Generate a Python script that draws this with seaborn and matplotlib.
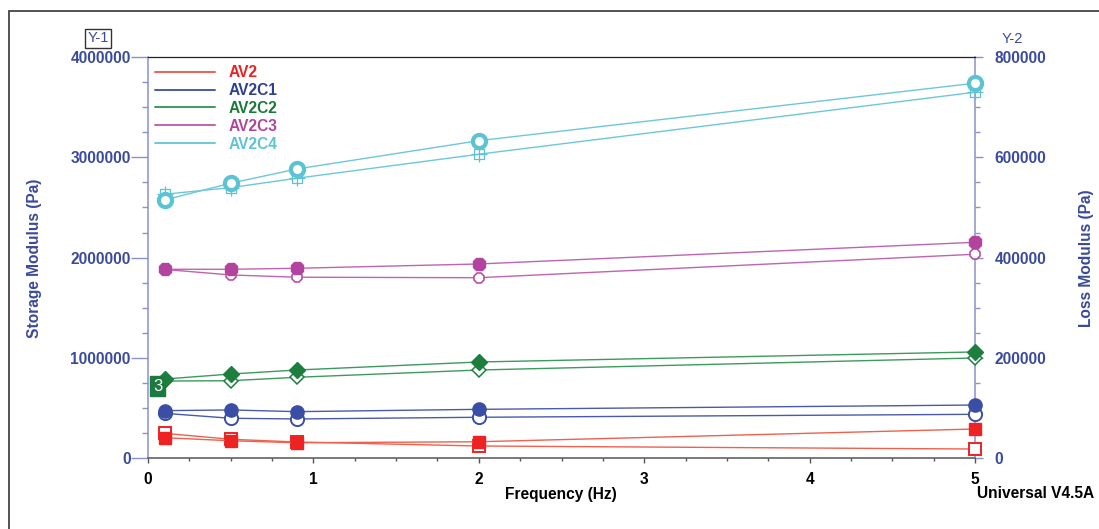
import numpy as np
import pandas as pd
import seaborn as sns
import matplotlib
matplotlib.use("Agg")
import matplotlib.pyplot as plt
from matplotlib.path import Path
from matplotlib.lines import Line2D
from matplotlib.patches import Rectangle
from matplotlib.ticker import AutoMinorLocator, MultipleLocator, FuncFormatter

# Frequency sweep points (Hz)
frequency = [0.1, 0.5, 0.9, 2.0, 5.0]

samples = ["AV2", "AV2C1", "AV2C2", "AV2C3", "AV2C4"]

# Storage modulus G' (Pa), left axis
storage_av2 = [205000, 175000, 155000, 165000, 292000]
storage_av2c1 = [475000, 482000, 465000, 488000, 531000]
storage_av2c2 = [790000, 840000, 880000, 960000, 1060000]
storage_av2c3 = [1884000, 1884000, 1894000, 1937000, 2153000]
storage_av2c4 = [2575000, 2742000, 2884000, 3166000, 3739000]

# Loss modulus G'' (Pa), right axis
loss_av2 = [49800, 37900, 32500, 24500, 18500]
loss_av2c1 = [89700, 79800, 78400, 81800, 87700]
loss_av2c2 = [154000, 154700, 161500, 176000, 200000]
loss_av2c3 = [376500, 365500, 361000, 360000, 406800]
loss_av2c4 = [526400, 539600, 558300, 606200, 729800]

storage = [storage_av2, storage_av2c1, storage_av2c2, storage_av2c3, storage_av2c4]
loss = [loss_av2, loss_av2c1, loss_av2c2, loss_av2c3, loss_av2c4]

line_colors = ["#f0604e", "#4a5aaa", "#3c9a5c", "#c063b0", "#6cc8d8"]
mark_colors = ["#ee2222", "#3a4ea6", "#1d7f3e", "#b2449f", "#5bc3d4"]
text_colors = ["#ee2020", "#2f3f96", "#1a7a38", "#b0469c", "#5cc4d6"]

axis_blue = "#3a4a9c"
spine_blue = "#8a92cc"

# square-with-cross marker for the AV2C4 loss curve
sq_cross = Path(
    [(-0.6, -0.6), (0.6, -0.6), (0.6, 0.6), (-0.6, 0.6), (-0.6, -0.6),
     (0, -1.0), (0, 1.0), (-1.0, 0), (1.0, 0)],
    [Path.MOVETO, Path.LINETO, Path.LINETO, Path.LINETO, Path.CLOSEPOLY,
     Path.MOVETO, Path.LINETO, Path.MOVETO, Path.LINETO])

filled_style = [
    dict(marker="s", markersize=8.5, markerfacecolor=mark_colors[0], markeredgecolor=mark_colors[0], markeredgewidth=1),
    dict(marker="o", markersize=9.5, markerfacecolor=mark_colors[1], markeredgecolor=mark_colors[1], markeredgewidth=1),
    dict(marker="D", markersize=8, markerfacecolor=mark_colors[2], markeredgecolor=mark_colors[2], markeredgewidth=1),
    dict(marker="8", markersize=9.5, markerfacecolor=mark_colors[3], markeredgecolor=mark_colors[3], markeredgewidth=1),
    dict(marker="o", markersize=9.5, markerfacecolor="white", markeredgecolor=mark_colors[4], markeredgewidth=3.0),
]
open_style = [
    dict(marker="s", markersize=8.5, markerfacecolor="white", markeredgecolor=mark_colors[0], markeredgewidth=1.4),
    dict(marker="o", markersize=9.5, markerfacecolor="white", markeredgecolor=mark_colors[1], markeredgewidth=1.4),
    dict(marker="D", markersize=7.5, markerfacecolor="white", markeredgecolor=mark_colors[2], markeredgewidth=1.1),
    dict(marker="8", markersize=8.5, markerfacecolor="white", markeredgecolor=mark_colors[3], markeredgewidth=1.1),
    dict(marker=sq_cross, markersize=11, markerfacecolor="none", markeredgecolor=mark_colors[4], markeredgewidth=0.9),
]

sns.set_style("white")
plt.rcParams["font.family"] = ["Liberation Sans", "DejaVu Sans"]
plt.rcParams["font.weight"] = "bold"

fig = plt.figure(figsize=(10.99, 5.29), dpi=100)
ax = fig.add_axes([148 / 1099, 1 - 458.3 / 529, (975 - 148) / 1099, (458.3 - 57) / 529])
ax2 = ax.twinx()
# filled (storage) markers sit above the open (loss) markers
ax.set_zorder(ax2.get_zorder() + 1)
ax.patch.set_visible(False)

for i, name in enumerate(samples):
    df_s = pd.DataFrame({"Frequency": frequency, "G": storage[i]})
    df_l = pd.DataFrame({"Frequency": frequency, "G": loss[i]})
    sns.lineplot(data=df_s, x="Frequency", y="G", ax=ax, color=line_colors[i], lw=1.0,
                 clip_on=False, zorder=3, legend=False, **filled_style[i])
    sns.lineplot(data=df_l, x="Frequency", y="G", ax=ax2, color=line_colors[i], lw=1.0,
                 clip_on=False, zorder=3, legend=False, **open_style[i])

ax.set_xlim(0, 5)
ax.set_ylim(0, 4000000)
ax2.set_ylim(0, 800000)

ax.xaxis.set_major_locator(MultipleLocator(1))
ax.xaxis.set_minor_locator(AutoMinorLocator(4))
ax.yaxis.set_major_locator(MultipleLocator(1000000))
ax.yaxis.set_minor_locator(AutoMinorLocator(4))
ax2.yaxis.set_major_locator(MultipleLocator(200000))
ax2.yaxis.set_minor_locator(AutoMinorLocator(4))
fmt = FuncFormatter(lambda v, p: f"{int(round(v))}")
ax.yaxis.set_major_formatter(fmt)
ax2.yaxis.set_major_formatter(fmt)

ax.tick_params(axis="y", which="major", direction="out", length=12, width=1, color=spine_blue,
               labelsize=11.2, labelcolor=axis_blue, pad=0.5, left=True)
ax.tick_params(axis="y", which="minor", direction="out", length=4.3, width=1, color=spine_blue, left=True)
ax.tick_params(axis="x", which="major", direction="out", length=3.6, width=1, color="#555555",
               labelsize=11.2, labelcolor="black", pad=6, bottom=True)
ax.tick_params(axis="x", which="minor", direction="out", length=2.2, width=1, color="#555555", bottom=True)
ax2.tick_params(axis="y", which="major", direction="out", length=5.8, width=1, color=spine_blue,
                labelsize=11.2, labelcolor=axis_blue, pad=8.5, right=True)
ax2.tick_params(axis="y", which="minor", direction="out", length=3.6, width=1, color=spine_blue, right=True)

for a in (ax, ax2):
    for lab in a.get_xticklabels() + a.get_yticklabels():
        lab.set_fontweight("bold")

ax.spines["left"].set_color(spine_blue)
ax.spines["right"].set_visible(False)
ax.spines["bottom"].set_color("#555555")
ax.spines["top"].set_color("#222222")
ax.spines["top"].set_linewidth(0.9)
ax2.spines["right"].set_color(spine_blue)
for s in ("left", "top", "bottom"):
    ax2.spines[s].set_visible(False)
ax.spines["left"].set_linewidth(1.1)
ax2.spines["right"].set_linewidth(1.1)
ax.spines["bottom"].set_linewidth(1.1)

ax.set_xlabel("")
ax.set_ylabel("")
ax2.set_ylabel("")

fig.text(35 / 1099, 1 - 258 / 529, "Storage Modulus (Pa)", rotation=90, ha="center", va="center",
         fontsize=11.2, fontweight="bold", color=axis_blue)
fig.text(1086 / 1099, 1 - 258 / 529, "Loss Modulus (Pa)", rotation=90, ha="center", va="center",
         fontsize=11.2, fontweight="bold", color=axis_blue)
fig.text(561 / 1099, 1 - 494 / 529, "Frequency (Hz)", ha="center", va="center",
         fontsize=11.2, fontweight="bold", color="black")
fig.text(1036 / 1099, 1 - 494 / 529, "Universal V4.5A", ha="center", va="center",
         fontsize=11.2, fontweight="bold", color="black")
fig.text(98 / 1099, 1 - 38.5 / 529, "Y-1", ha="center", va="center", fontsize=10.5,
         fontweight="normal", color=axis_blue,
         bbox=dict(boxstyle="square,pad=0.18", facecolor="white", edgecolor="#333333", linewidth=1))
fig.text(1012 / 1099, 1 - 39 / 529, "Y-2", ha="center", va="center", fontsize=10.5,
         fontweight="normal", color=axis_blue)

# cursor tag on the AV2C2 curve
ax.text(0.058, 718000, "3", ha="center", va="center", fontsize=12,
        fontweight="normal", color="white", zorder=6,
        bbox=dict(boxstyle="square,pad=0.16", facecolor="#1d7a3e", edgecolor="#1d7a3e"))

handles = [Line2D([0], [0], color=line_colors[i], lw=1.4) for i in range(len(samples))]
leg = ax.legend(handles, samples, loc="upper left", bbox_to_anchor=(155 / 1099, 1 - 65 / 529),
                bbox_transform=fig.transFigure, frameon=False, handlelength=3.85, handletextpad=0.9,
                labelspacing=0.19, fontsize=11.2, borderaxespad=0, borderpad=0)
for t, c in zip(leg.get_texts(), text_colors):
    t.set_color(c)
    t.set_fontweight("bold")

fig.patches.append(Rectangle((9 / 1099, -0.2), 1.5, 1.2 - 11 / 529, transform=fig.transFigure,
                             fill=False, edgecolor="#444444", linewidth=1.3, clip_on=False))

fig.savefig("out.png", dpi=100, facecolor="white")
